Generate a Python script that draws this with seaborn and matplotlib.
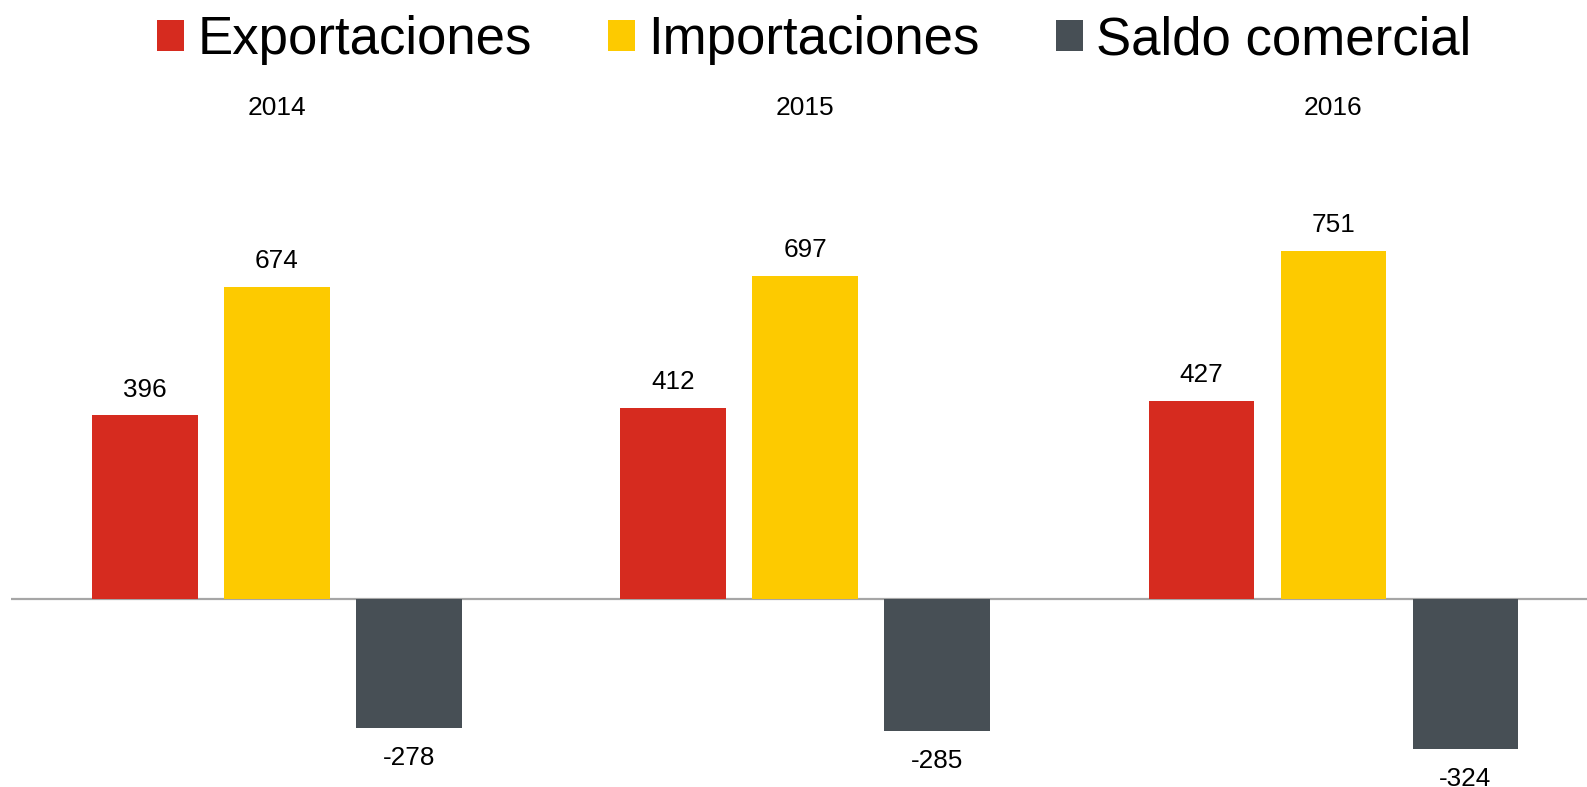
import seaborn as sns
import pandas as pd
import matplotlib.pyplot as plt

years = ["2014", "2015", "2016"]
series = ["Exportaciones", "Importaciones", "Saldo comercial"]
exportaciones = [396, 412, 427]
importaciones = [674, 697, 751]
saldo = [-278, -285, -324]
colors = ["#D62B1F", "#FDCA00", "#474F55"]

df = pd.DataFrame({
    "year": years * 3,
    "serie": [s for s in series for _ in years],
    "valor": exportaciones + importaciones + saldo,
})

sns.set_theme(style="white")
plt.rcParams["font.family"] = ["Liberation Sans", "DejaVu Sans"]
plt.rcParams["text.color"] = "black"
plt.rcParams["xtick.color"] = "black"

fig = plt.figure(figsize=(15.87, 7.87), dpi=100)
ax = fig.add_axes([0.007, 0.0, 0.993, 0.842])

sns.barplot(data=df, x="year", y="valor", hue="serie", palette=colors,
            saturation=1, width=0.75, gap=0.2, linewidth=0, ax=ax)

# negative bars get their labels a bit further away
for cont, pad in zip(ax.containers, [10, 10, 13]):
    ax.bar_label(cont, fmt="%d", padding=pad, fontsize=18.8, color="black")

ax.axhline(0, color="#A6A6A6", lw=1.6, zorder=0)
ax.set_xlim(-0.503, 2.48)
ax.set_ylim(-405.6, 1024)

ax.xaxis.tick_top()
ax.tick_params(axis="x", length=0, pad=3, labelsize=19, labelcolor="black")
ax.set_yticks([])
ax.set_xlabel("")
ax.set_ylabel("")
for sp in ax.spines.values():
    sp.set_visible(False)

handles, labels = ax.get_legend_handles_labels()
ax.get_legend().remove()
fig.legend(handles, labels, loc="center", bbox_to_anchor=(0.513, 0.949),
           ncol=3, frameon=False, fontsize=38, handlelength=0.52,
           handleheight=0.52, handletextpad=0.25, columnspacing=1.44)

fig.savefig("out.png", dpi=100)
